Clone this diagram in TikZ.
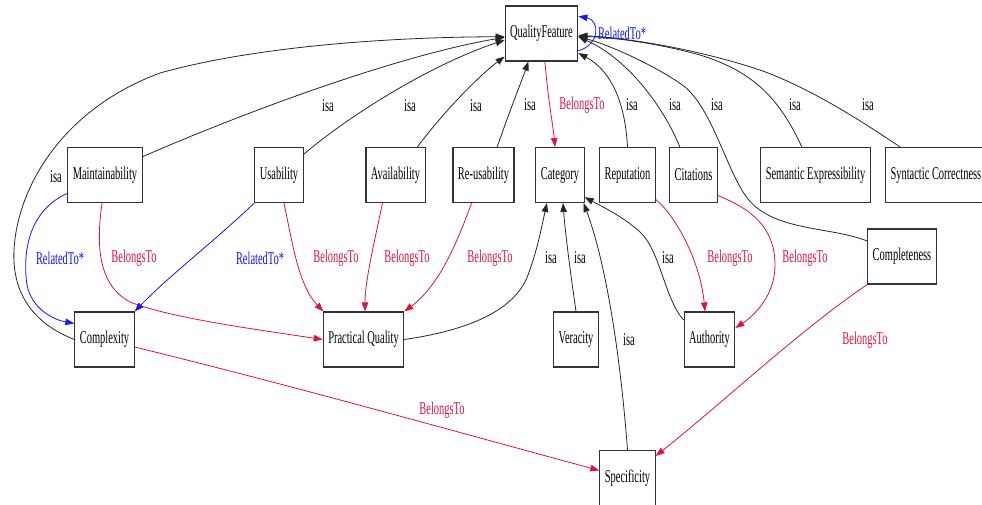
\documentclass[tikz,border=0pt]{standalone}
\usepackage{fontspec}
\usetikzlibrary{arrows.meta}
\newfontfamily\dotfont[FakeStretch=0.58]{Liberation Serif}
\definecolor{belongred}{RGB}{220,20,60}
\definecolor{relblue}{RGB}{20,20,255}
\tikzset{
    concept/.style={draw=black!80, line width=1.1pt, fill=white,
        minimum height=55pt, inner xsep=5pt, font=\dotfont\fontsize{18}{20}\selectfont},
    edgelabel/.style={inner sep=0pt, font=\dotfont\fontsize{18}{20}\selectfont},
    tip/.style={-{Triangle[length=9pt,width=6.5pt]}},
    isa/.style={tip, line width=0.8pt, black!85},
    belongs/.style={tip, line width=0.8pt, belongred},
    related/.style={tip, line width=0.8pt, relblue},
}
\begin{document}
\begin{tikzpicture}[x=1pt, y=-1pt]
    \useasboundingbox (0,0) rectangle (982,504);
    \clip (0,0) rectangle (982,504);

    \node [concept] (qf)     at (541.5,33.5) {QualityFeature};
    \node [concept] (maint)  at (105,175)    {Maintainability};
    \node [concept] (usab)   at (279,175)    {Usability};
    \node [concept] (avail)  at (395.5,175)  {Availability};
    \node [concept] (reuse)  at (483.5,175)  {Re-usability};
    \node [concept] (categ)  at (560,175)    {Category};
    \node [concept] (reput)  at (627.5,175)  {Reputation};
    \node [concept] (citat)  at (693.5,175)  {Citations};
    \node [concept] (semexp) at (815.5,175)  {Semantic Expressibility};
    \node [concept, anchor=west] (syncor) at (885,175) {Syntactic Correctness};
    \node [concept] (complt) at (902,256.5)  {Completeness};
    \node [concept] (cmplx)  at (104.5,339.5) {Complexity};
    \node [concept] (pracq)  at (363.5,339.5) {Practical Quality};
    \node [concept] (verac)  at (576,339.5)  {Veracity};
    \node [concept] (auth)   at (709.5,339.5) {Authority};
    \node [concept] (specf)  at (627.5,478)  {Specificity};

    \draw [isa]
        (cmplx.west)
        .. controls (30,322) and (12,290) .. (14,250)
        .. controls (17,190) and (60,110) .. (160,73)
        .. controls (260,45) and (400,37) .. (qf.185)
        ;

    \draw [isa]
        (maint.26)
        .. controls (250,110) and (400,55) .. (qf.186)
        ;

    \draw [isa]
        (usab.40)
        .. controls (350,115) and (430,65) .. (qf.190)
        ;

    \draw [isa]
        (avail.52)
        .. controls (445,110) and (480,75) .. (qf.212)
        ;

    \draw [isa]
        (reuse.64)
        .. controls (510,110) and (522,80) .. (qf.245)
        ;

    \draw [isa]
        (reput.north)
        .. controls (625,100) and (610,70) .. (qf.-28)
        ;

    \draw [isa]
        (citat.116)
        .. controls (665,110) and (630,60) .. (qf.-5)
        ;

    \draw [isa]
        (complt.156)
        .. controls (830,226) and (770,232) .. (745,195)
        .. controls (725,165) and (712,110) .. (685,87)
        .. controls (660,68) and (610,45) .. (qf.-5)
        ;

    \draw [isa]
        (semexp.116)
        .. controls (780,100) and (755,72) .. (700,55)
        .. controls (660,44) and (620,38) .. (qf.-4)
        ;

    \draw [isa]
        ([xshift=15pt]syncor.north west)
        .. controls (860,120) and (810,88) .. (760,70)
        .. controls (700,50) and (630,38) .. (qf.-3)
        ;

    \draw [belongs]
        (qf.277)
        .. controls (548,100) and (553,125) .. (categ.100)
        ;

    \draw [related]
        (qf.-25)
        .. controls (600,45) and (600,20) .. (qf.25)
        ;

    \draw [isa]
        (pracq.east)
        .. controls (470,330) and (515,310) .. (528,275)
        .. controls (538,248) and (542,225) .. (categ.245)
        ;

    \draw [isa]
        (verac.north)
        .. controls (570,270) and (565,230) .. (categ.-84)
        ;

    \draw [isa]
        (specf.north)
        .. controls (620,350) and (605,260) .. (categ.-50)
        ;

    \draw [isa]
        (auth.143)
        .. controls (665,300) and (660,250) .. (640,232)
        .. controls (625,218) and (605,208) .. (categ.-42)
        ;

    \draw [belongs]
        (maint.264)
        .. controls (96,245) and (98,285) .. (130,302)
        .. controls (170,318) and (260,330) .. (pracq.west)
        ;

    \draw [belongs]
        (usab.-80)
        .. controls (292,240) and (298,285) .. (pracq.145)
        ;

    \draw [belongs]
        (avail.245)
        .. controls (375,240) and (365,280) .. (pracq.87)
        ;

    \draw [belongs]
        (reuse.247)
        .. controls (458,240) and (440,285) .. (pracq.north east)
        ;

    \draw [belongs]
        (reput.-41)
        .. controls (675,215) and (700,260) .. (auth.99)
        ;

    \draw [belongs]
        (citat.-40)
        .. controls (740,205) and (775,220) .. (775,265)
        .. controls (775,295) and (755,315) .. (auth.24)
        ;

    \draw [belongs]
        (complt.south west)
        .. controls (800,330) and (720,405) .. (specf.38)
        ;

    \draw [belongs]
        (cmplx.-14)
        .. controls (290,385) and (450,430) .. (specf.165)
        ;

    \draw [related]
        (maint.206)
        .. controls (30,210) and (22,250) .. (27,285)
        .. controls (32,310) and (55,320) .. (cmplx.152)
        ;

    \draw [related]
        (usab.south west)
        .. controls (210,245) and (170,275) .. (cmplx.north east)
        ;

    \node [edgelabel] (isaCmplx)  at (56,177)  {isa};
    \node [edgelabel] (isaMaint)  at (328,106) {isa};
    \node [edgelabel] (isaUsab)   at (410,106) {isa};
    \node [edgelabel] (isaAvail)  at (476,106) {isa};
    \node [edgelabel] (isaReuse)  at (530,105) {isa};
    \node [edgelabel] (isaReput)  at (632,105) {isa};
    \node [edgelabel] (isaCitat)  at (675,105) {isa};
    \node [edgelabel] (isaComplt) at (717,105) {isa};
    \node [edgelabel] (isaSemexp) at (795,105) {isa};
    \node [edgelabel] (isaSyncor) at (868,105) {isa};
    \node [edgelabel] (isaPracq)  at (551,258) {isa};
    \node [edgelabel] (isaVerac)  at (580,258) {isa};
    \node [edgelabel] (isaSpecf)  at (629,340) {isa};
    \node [edgelabel] (isaAuth)   at (668,258) {isa};

    \node [edgelabel, belongred] (bCateg)  at (582,105) {BelongsTo};
    \node [edgelabel, belongred] (bMaint)  at (134,258) {BelongsTo};
    \node [edgelabel, belongred] (bUsab)   at (336,258) {BelongsTo};
    \node [edgelabel, belongred] (bAvail)  at (407,258) {BelongsTo};
    \node [edgelabel, belongred] (bReuse)  at (490,258) {BelongsTo};
    \node [edgelabel, belongred] (bReput)  at (730,258) {BelongsTo};
    \node [edgelabel, belongred] (bCitat)  at (805,258) {BelongsTo};
    \node [edgelabel, belongred] (bComplt) at (865,340) {BelongsTo};
    \node [edgelabel, belongred] (bCmplx)  at (442,410) {BelongsTo};

    \node [edgelabel, relblue] (rSelf)  at (622,33)  {RelatedTo*};
    \node [edgelabel, relblue] (rMaint) at (60,258)  {RelatedTo*};
    \node [edgelabel, relblue] (rUsab)  at (260,258) {RelatedTo*};
\end{tikzpicture}
\end{document}
